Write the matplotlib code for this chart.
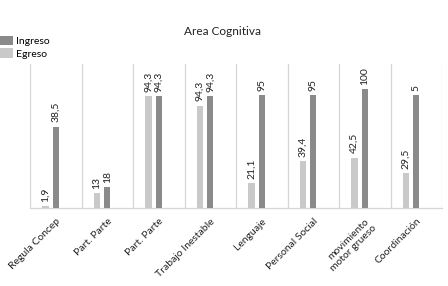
import matplotlib
matplotlib.use("Agg")
import matplotlib.pyplot as plt
import numpy as np

plt.rcParams['font.family'] = ['Lato', 'DejaVu Sans']

categories = ["Regula Concep", "Part. Parte", "Part. Parte", "Trabajo Inestable",
              "Lenguaje", "Personal Social", "movimiento\nmotor grueso", "Coordinación"]
egreso = [1.9, 13, 94.3, 86.2, 21.1, 39.4, 42.5, 29.5]
ingreso = [68.5, 18, 94.3, 94.3, 95, 95, 100, 95]
egreso_labels = ["1,9", "13", "94,3", "94,3", "21,1", "39,4", "42,5", "29,5"]
ingreso_labels = ["38,5", "18", "94,3", "94,3", "95", "95", "100", "5"]

fig = plt.figure(figsize=(4.48, 2.86), dpi=100)
ax = fig.add_axes([30/448, 77.7/286, 412/448, 144.3/286])

x = np.arange(len(categories))
w = 0.12
c_in = "#8a8a8a"
c_eg = "#c9c9c9"
txt = "#222222"
b_eg = ax.bar(x - 0.2, egreso, w, color=c_eg, label="Egreso", zorder=3)
b_in = ax.bar(x, ingreso, w, color=c_in, label="Ingreso", zorder=3)

for xi, v, t in zip(x - 0.2, egreso, egreso_labels):
    ax.annotate(t, (xi, v), xytext=(0, 3), textcoords="offset points",
                rotation=90, ha="center", va="bottom", fontsize=7.5, color=txt)
for xi, v, t in zip(x, ingreso, ingreso_labels):
    ax.annotate(t, (xi, v), xytext=(0, 3), textcoords="offset points",
                rotation=90, ha="center", va="bottom", fontsize=7.5, color=txt)

ax.set_xlim(-0.5, len(categories) - 0.5)
ax.set_ylim(0, 121)
ax.set_yticks([])
ax.set_xticks(x)
ax.set_xticklabels(categories, rotation=45, ha="right", rotation_mode="anchor",
                   fontsize=7.5, color=txt)
ax.tick_params(axis="x", length=0, pad=6)
for b in np.arange(-0.5, len(categories)):
    ax.axvline(b, color="#d6d6d6", lw=0.9, zorder=1)
for s in ["top", "left", "right"]:
    ax.spines[s].set_visible(False)
ax.spines["bottom"].set_color("#d6d6d6")
ax.spines["bottom"].set_linewidth(0.9)

fig.text(222/448, 1 - 31.5/286, "Area Cognitiva", ha="center", va="center",
         fontsize=8.5, color=txt)

fig.legend(handles=[b_in, b_eg], labels=["Ingreso", "Egreso"], loc="upper left",
           bbox_to_anchor=(0.0, 1 - 36/286), frameon=False, fontsize=7.5,
           handlelength=1.2, handleheight=1.0, handletextpad=0.3, labelspacing=0.2,
           borderaxespad=0, borderpad=0)

fig.savefig("out.png", dpi=100)
